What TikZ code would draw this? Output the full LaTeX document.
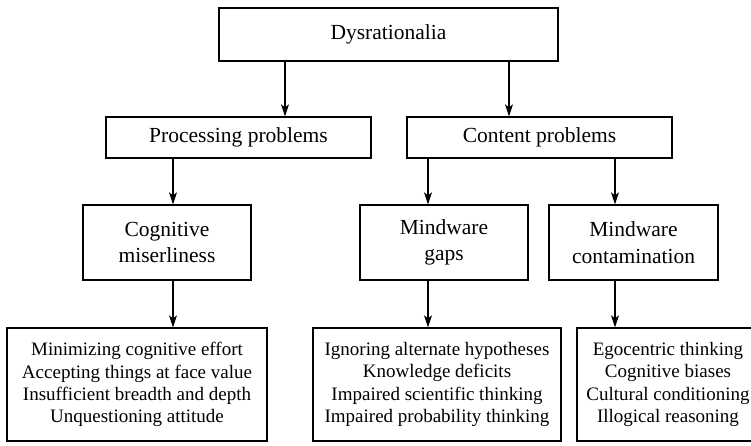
\documentclass[tikz,border=0pt]{standalone}
\usepackage{fontspec}
\setmainfont{Liberation Serif}
\usetikzlibrary{arrows.meta}

\tikzset{
  box/.style={draw, line width=1.3pt, inner sep=0pt, align=center},
  bigtext/.style={font=\fontsize{21.5}{26.5}\selectfont},
  smalltext/.style={font=\fontsize{19}{22.2}\selectfont},
  arr/.style={line width=1.1pt, -{Stealth[length=12pt,width=8pt,inset=3pt]}}
}

\begin{document}
\begin{tikzpicture}[x=1pt,y=-1pt]
\useasboundingbox (0,0) rectangle (751,445);

% top level
\node[box,bigtext,minimum width=339pt,minimum height=53pt] (dys) at (388.5,34.5) {Dysrationalia};

% second level
\node[box,bigtext,minimum width=265pt,minimum height=41pt] (proc) at (238.5,137.5) {Processing problems};
\node[box,bigtext,minimum width=265pt,minimum height=41pt] (cont) at (539.5,137.5) {Content problems};

% third level
\node[box,bigtext,minimum width=168pt,minimum height=75pt] (cog) at (167,242.5) {Cognitive\\miserliness};
\node[box,bigtext,minimum width=168pt,minimum height=75pt] (gaps) at (444,242.5) {Mindware\\gaps};
\node[box,bigtext,minimum width=169pt,minimum height=75pt] (contam) at (633.5,242.5) {Mindware\\contamination};

% detail boxes
\node[box,smalltext,minimum width=260pt,minimum height=113pt] (b1) at (137,384.5)
  {Minimizing cognitive effort\\Accepting things at face value\\Insufficient breadth and depth\\Unquestioning attitude};
\node[box,smalltext,minimum width=248pt,minimum height=113pt] (b2) at (437,384.5)
  {Ignoring alternate hypotheses\\Knowledge deficits\\Impaired scientific thinking\\Impaired probability thinking};
\node[box,smalltext,minimum width=182pt,minimum height=113pt] (b3) at (668,384.5)
  {Egocentric thinking\\Cognitive biases\\Cultural conditioning\\Illogical reasoning};

% arrow columns
\coordinate (ca) at (285,0);
\coordinate (cb) at (509,0);
\coordinate (cc) at (173,0);
\coordinate (cd) at (428,0);
\coordinate (ce) at (615,0);

\draw[arr] (dys.south -| ca) -- (proc.north -| ca);
\draw[arr] (dys.south -| cb) -- (cont.north -| cb);
\draw[arr] (proc.south -| cc) -- (cog.north -| cc);
\draw[arr] (cont.south -| cd) -- (gaps.north -| cd);
\draw[arr] (cont.south -| ce) -- (contam.north -| ce);
\draw[arr] (cog.south -| cc) -- (b1.north -| cc);
\draw[arr] (gaps.south -| cd) -- (b2.north -| cd);
\draw[arr] (contam.south -| ce) -- (b3.north -| ce);
\end{tikzpicture}
\end{document}
